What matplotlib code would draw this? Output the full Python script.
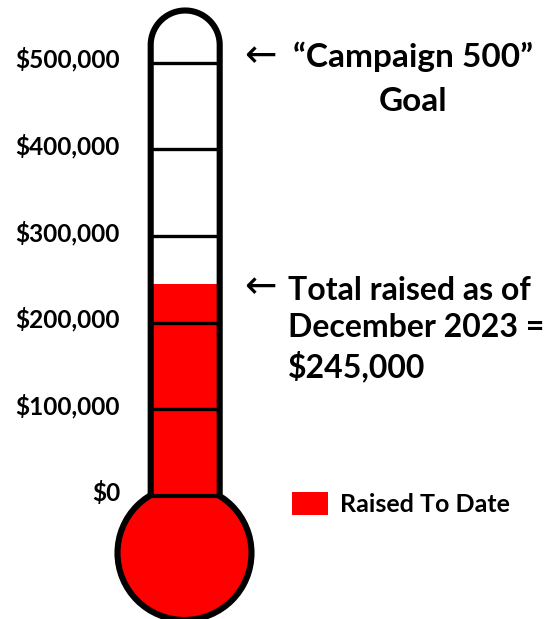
import matplotlib
matplotlib.use("Agg")
import matplotlib.pyplot as plt
from matplotlib.patches import Ellipse
import numpy as np

# ---- data ----
tick_values = [0, 100000, 200000, 300000, 400000, 500000]
tick_labels = ["$0", "$100,000", "$200,000", "$300,000", "$400,000", "$500,000"]
goal = 500000
raised = 245000
series_label = "Raised To Date"
goal_lines = ["\u201cCampaign 500\u201d", "Goal"]
raised_text = "Total raised as of\nDecember 2023 =\n$245,000"

W, H = 552, 619
fig = plt.figure(figsize=(W / 100, H / 100), dpi=100)
ax = fig.add_axes([0, 0, 1, 1])
ax.set_axis_off()

# pixel -> value scale
px_per_100k = 86.7
y0_px = 496
def v(px):
    return (y0_px - px) / px_per_100k * 100000
ax.set_xlim(0, W)
ax.set_ylim(v(H), v(0))
vpp = 100000 / px_per_100k  # value per pixel

FONT = ["Lato", "DejaVu Sans"]
RED = "#ff0000"
lw_outer = 4.4
cx = 185.2
tube_half = 34.5
top_val = v(45)

# bulb
bulb = Ellipse((184.5, v(553)), 134, 134 * vpp, facecolor=RED, edgecolor="black",
               lw=lw_outer, zorder=1)
ax.add_patch(bulb)

# mercury (bar)
ax.bar([cx], [raised], bottom=0, width=2 * tube_half - 2, color=RED,
       zorder=2, label=series_label)

# tube outline: walls + dome as one path
t = np.linspace(np.pi, 0, 60)
ox = np.concatenate([[cx - tube_half], cx + tube_half * np.cos(t), [cx + tube_half]])
oy = np.concatenate([[v(497)], top_val + tube_half * vpp * np.sin(t), [v(497)]])
ax.plot(ox, oy, color="black", lw=lw_outer, solid_capstyle="butt",
        solid_joinstyle="round", zorder=4)

# ticks inside tube + labels
for val, lab in zip(tick_values, tick_labels):
    ax.plot([cx - tube_half, cx + tube_half], [val, val], color="black",
            lw=2.4 if val else 3.0, zorder=3, solid_capstyle="butt")
    ax.text(120, val + 3 * vpp, lab, ha="right", va="center", fontsize=17.6,
            fontweight="bold", family=FONT)

# annotations
ax.text(260, goal + 6 * vpp, "\u2190", ha="center", va="center", fontsize=28,
        family=["DejaVu Sans"])
ax.text(413, goal + 6 * vpp, goal_lines[0], ha="center", va="center",
        fontsize=24, fontweight="bold", family=FONT)
ax.text(413, goal - 39 * vpp, goal_lines[1], ha="center", va="center",
        fontsize=24, fontweight="bold", family=FONT)

ax.text(260, raised - 3 * vpp, "\u2190", ha="center", va="center", fontsize=28,
        family=["DejaVu Sans"])
ax.text(288, raised + 8 * vpp, raised_text, ha="left", va="top", fontsize=23,
        fontweight="bold", family=FONT, linespacing=1.33)

leg = ax.legend(loc="center left", bbox_to_anchor=(292 / W, 1 - 504 / H),
                bbox_transform=fig.transFigure, frameon=False, borderpad=0,
                borderaxespad=0, handlelength=1.45, handleheight=1.0,
                handletextpad=0.45, prop={"family": FONT, "weight": "bold", "size": 18})

fig.savefig("out.png", dpi=100)
